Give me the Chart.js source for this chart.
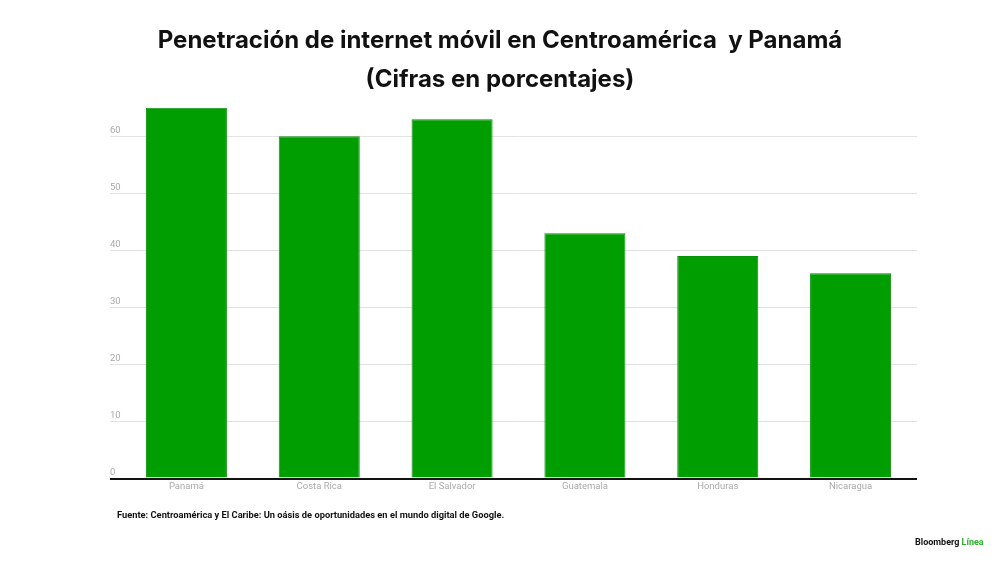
<!DOCTYPE html>
<html>
<head>
<meta charset="utf-8">
<script src="https://cdn.jsdelivr.net/npm/chart.js@4.4.1/dist/chart.umd.min.js"></script>
<style>
html,body{margin:0;padding:0;background:#fff;}
#wrap{width:1000px;height:562px;}
</style>
</head>
<body>
<div id="wrap"><canvas id="c" width="1000" height="562"></canvas></div>
<script>
const categories = ["Panamá", "Costa Rica", "El Salvador", "Guatemala", "Honduras", "Nicaragua"];
const penetration = [65, 60, 63, 43, 39, 36];
const yTicks = [0, 10, 20, 30, 40, 50, 60];
const titleLines = ["Penetración de internet móvil en Centroamérica  y Panamá", "(Cifras en porcentajes)"];
const sourceText = "Fuente: Centroamérica y El Caribe: Un oásis de oportunidades en el mundo digital de Google.";

const footerPlugin = {
  id: 'footerText',
  afterDraw(chart) {
    const ctx = chart.ctx;
    ctx.save();
    ctx.textBaseline = 'alphabetic';
    ctx.textAlign = 'left';
    ctx.fillStyle = '#111';
    ctx.font = 'bold 9.3px Roboto';
    ctx.fillText(sourceText, 117, 518);
    ctx.font = 'bold 9px Roboto';
    const a = 'Bloomberg ';
    ctx.fillText(a, 915, 545);
    const w = ctx.measureText(a).width;
    ctx.fillStyle = '#2fae2f';
    ctx.fillText('Línea', 915 + w, 545);
    ctx.restore();
  }
};

new Chart(document.getElementById('c'), {
  type: 'bar',
  data: {
    labels: categories,
    datasets: [{
      data: penetration,
      backgroundColor: '#009e00',
      borderColor: '#0a8f0a',
      borderWidth: 1,
      categoryPercentage: 1.0,
      barPercentage: 0.61
    }]
  },
  options: {
    responsive: false,
    animation: false,
    layout: { padding: { left: 83, right: 83, top: 0, bottom: 68 } },
    plugins: {
      legend: { display: false },
      tooltip: { enabled: false },
      title: {
        display: true,
        text: titleLines,
        color: '#111',
        font: { family: 'Inter', weight: 'bold', size: 24, lineHeight: 1.6 },
        padding: { top: 22, bottom: 9 }
      }
    },
    scales: {
      x: {
        grid: { display: false, drawTicks: false },
        border: { display: false },
        ticks: { color: '#aaaaaa', font: { family: 'Roboto', size: 9.5 }, padding: 2 }
      },
      y: {
        min: 0,
        max: 65,
        afterBuildTicks(axis) { axis.ticks = yTicks.map(v => ({ value: v })); },
        afterFit(axis) { axis.width = 37; },
        grid: {
          color: ctx => ctx.tick && ctx.tick.value === 0 ? '#111' : '#e2e2e2',
          lineWidth: ctx => ctx.tick && ctx.tick.value === 0 ? 2 : 1,
          tickLength: 10,
          drawTicks: true
        },
        border: { display: false },
        ticks: {
          mirror: true,
          padding: -10,
          labelOffset: -6,
          color: '#aaaaaa',
          font: { family: 'Roboto', size: 9.5 }
        }
      }
    }
  },
  plugins: [footerPlugin]
});
</script>
</body>
</html>
